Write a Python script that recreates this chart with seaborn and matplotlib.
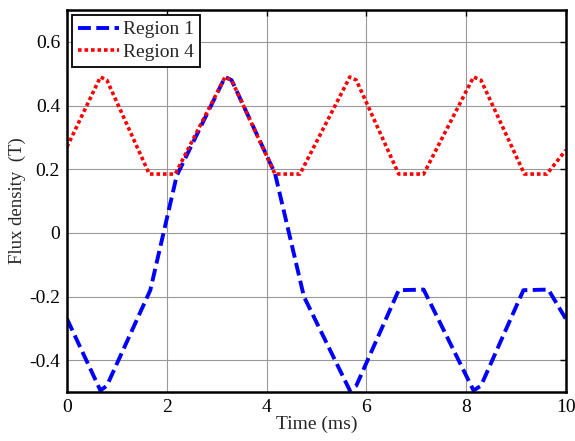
import numpy as np
import pandas as pd
import matplotlib
matplotlib.use("Agg")
import matplotlib.pyplot as plt
import seaborn as sns

# Data
r1_t = [0.0, 0.67, 0.8, 1.67, 2.2, 3.17, 3.3, 4.17, 4.75, 5.67, 5.8, 6.65, 7.15, 8.15, 8.3, 9.15, 9.65, 10.0]
r1_b = [-0.27, -0.495, -0.48, -0.18, 0.18, 0.49, 0.48, 0.187, -0.2, -0.495, -0.48, -0.18, -0.178, -0.495, -0.48, -0.18, -0.178, -0.27]

r4_t = [0.0, 0.67, 0.8, 1.65, 2.17, 3.17, 3.3, 4.17, 4.67, 5.67, 5.8, 6.65, 7.15, 8.15, 8.3, 9.17, 9.62, 10.0]
r4_b = [0.27, 0.49, 0.48, 0.185, 0.185, 0.49, 0.48, 0.185, 0.185, 0.49, 0.48, 0.185, 0.185, 0.49, 0.48, 0.185, 0.185, 0.26]

series_names = ["Region 1", "Region 4"]
x_ticks = [0, 2, 4, 6, 8, 10]
y_ticks = [-0.4, -0.2, 0, 0.2, 0.4, 0.6]
y_tick_labels = ["-0.4", "-0.2", "0", "0.2", "0.4", "0.6"]

sns.set_style("white")
plt.rcParams['font.family'] = ['Liberation Serif', 'DejaVu Serif']

fig = plt.figure(figsize=(5.75, 4.41), dpi=100)
ax = fig.add_axes([0.1165, 0.111, 0.8675, 0.866])

df1 = pd.DataFrame({"t": r1_t, "b": r1_b})
df4 = pd.DataFrame({"t": r4_t, "b": r4_b})

sns.lineplot(data=df1, x="t", y="b", ax=ax, color="#0000ff", linewidth=2.8,
             linestyle=(0, (3.3, 1.4)), label=series_names[0], sort=False)
sns.lineplot(data=df4, x="t", y="b", ax=ax, color="#ff0000", linewidth=2.6,
             linestyle=(0, (1.0, 0.8)), label=series_names[1], sort=False)
for ln in ax.get_lines():
    ln.set_dash_capstyle('butt')

ax.set_xlim(0, 10)
ax.set_ylim(-0.5, 0.7)
ax.set_xticks(x_ticks)
ax.set_xticklabels([str(v) for v in x_ticks])
ax.set_yticks(y_ticks)
ax.set_yticklabels(y_tick_labels)
ax.grid(True, color="#999999", linewidth=0.8, linestyle="-")
ax.set_axisbelow(True)
ax.tick_params(direction="in", length=4, width=1.0, top=True, right=True,
               labelsize=14, colors="black", pad=5)
for s in ax.spines.values():
    s.set_linewidth(1.8)
    s.set_color("black")
ax.set_xlabel("Time (ms)", fontsize=14, labelpad=0)
ax.set_ylabel("Flux density  (T)", fontsize=13.5, labelpad=2)

leg = ax.legend(loc="upper left", fontsize=14, frameon=True, fancybox=False,
                edgecolor="black", framealpha=1, borderpad=0.3, handlelength=2.1,
                handletextpad=0.25, labelspacing=0.25, borderaxespad=0.25)
leg.get_frame().set_linewidth(1.3)

fig.savefig("out.png", dpi=100)
